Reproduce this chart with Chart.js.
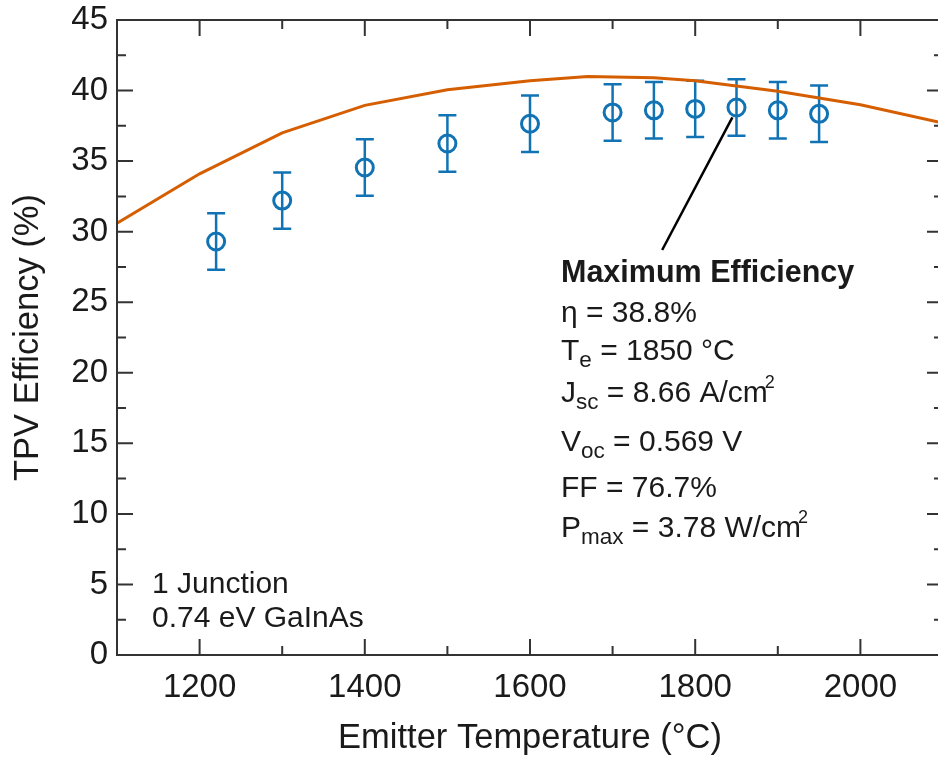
<!DOCTYPE html>
<html>
<head>
<meta charset="utf-8">
<script src="https://cdn.jsdelivr.net/npm/chart.js@4/dist/chart.umd.min.js"></script>
<style>
html,body{margin:0;padding:0;background:#fff;overflow:hidden;width:938px;height:759px}
#wrap{position:relative;width:945px;height:759px}
</style>
</head>
<body>
<div id="wrap"><canvas id="c" width="945" height="759"></canvas></div>
<script>
// ---- data ----
const measuredTemps = [1220, 1300, 1400, 1500, 1600, 1700, 1750, 1800, 1850, 1900, 1950];
const measuredEff   = [29.3, 32.2, 34.55, 36.25, 37.65, 38.45, 38.6, 38.7, 38.8, 38.6, 38.35];
const measuredErr   = [2.0, 2.0, 2.0, 2.0, 2.0, 2.0, 2.0, 2.0, 2.0, 2.0, 2.0];
const modelTemps    = [1100, 1200, 1300, 1400, 1500, 1600, 1670, 1750, 1800, 1900, 2000, 2100];
const modelEff      = [30.6, 34.1, 37.0, 38.95, 40.05, 40.7, 41.0, 40.9, 40.7, 39.95, 39.0, 37.7];
const xTickValues   = [1200, 1400, 1600, 1800, 2000];
const xMinorValues  = [1300, 1500, 1700, 1900];
const yTickValues   = [0, 5, 10, 15, 20, 25, 30, 35, 40, 45];
const yMinorValues  = [2.5, 7.5, 12.5, 17.5, 22.5, 27.5, 32.5, 37.5, 42.5];
const xTitle = 'Emitter Temperature (°C)';
const yTitle = 'TPV Efficiency (%)';
const calloutFrom = [1845, 38.1];
const calloutTo   = [1760, 28.7];
const cornerLines = ['1 Junction', '0.74 eV GaInAs'];
const annotationLines = [
  [{t:'Maximum Efficiency', bold:true}],
  [{t:'η = 38.8%'}],
  [{t:'T'}, {t:'e', sub:true}, {t:' = 1850 °C'}],
  [{t:'J'}, {t:'sc', sub:true}, {t:' = 8.66 A/cm'}, {t:'2', sup:true}],
  [{t:'V'}, {t:'oc', sub:true}, {t:' = 0.569 V'}],
  [{t:'FF = 76.7%'}],
  [{t:'P'}, {t:'max', sub:true}, {t:' = 3.78 W/cm'}, {t:'2', sup:true}]
];

// ---- style ----
const FONT = "'Liberation Sans', Arial, Helvetica, sans-serif";
const TXT = '#1a1a1a';
const AXIS = '#333333';
const BLUE = '#1173b4';
const ORANGE = '#d55e00';

const annotBaselines = [282, 322, 360, 402, 451, 497, 537];

function drawRuns(ctx, x, y, runs) {
  let cx = x;
  runs.forEach(r => {
    let size = 30, dy = 0, dx = 0;
    if (r.bold) size = 30.5;
    if (r.sub) { size = 22.5; dy = 7; }
    if (r.sup) { size = 18; dy = -14; dx = -3; }
    ctx.font = (r.bold ? 'bold ' : '') + size + 'px ' + FONT;
    cx += dx;
    ctx.fillText(r.t, cx, y + dy);
    cx += ctx.measureText(r.t).width;
  });
}

const framePlugin = {
  id: 'frame',
  beforeDatasetsDraw(chart) {
    const xs = chart.scales.x, ys = chart.scales.y, ctx = chart.ctx;
    ctx.save();
    ctx.strokeStyle = BLUE;
    ctx.lineWidth = 2.5;
    measuredTemps.forEach((t, i) => {
      const px = xs.getPixelForValue(t);
      const hi = ys.getPixelForValue(measuredEff[i] + measuredErr[i]);
      const lo = ys.getPixelForValue(measuredEff[i] - measuredErr[i]);
      ctx.beginPath();
      ctx.moveTo(px, hi); ctx.lineTo(px, lo);
      ctx.moveTo(px - 9, hi); ctx.lineTo(px + 9, hi);
      ctx.moveTo(px - 9, lo); ctx.lineTo(px + 9, lo);
      ctx.stroke();
    });
    ctx.restore();
  },
  afterDraw(chart) {
    const {left, right, top, bottom} = chart.chartArea;
    const xs = chart.scales.x, ys = chart.scales.y, ctx = chart.ctx;
    ctx.save();
    ctx.strokeStyle = AXIS;
    ctx.lineWidth = 2;
    ctx.beginPath();
    ctx.rect(left, top, right - left, bottom - top);
    ctx.stroke();
    ctx.beginPath();
    const xtick = (vals, len) => {
      vals.forEach(v => {
        const px = xs.getPixelForValue(v);
        ctx.moveTo(px, bottom); ctx.lineTo(px, bottom - len);
        ctx.moveTo(px, top); ctx.lineTo(px, top + len);
      });
    };
    const ytick = (vals, len) => {
      vals.forEach(v => {
        const py = ys.getPixelForValue(v);
        ctx.moveTo(left, py); ctx.lineTo(left + len, py);
        ctx.moveTo(right, py); ctx.lineTo(right - len, py);
      });
    };
    xtick(xTickValues, 16); xtick(xMinorValues, 9);
    ytick(yTickValues, 16); ytick(yMinorValues, 9);
    ctx.stroke();
    ctx.strokeStyle = '#000';
    ctx.lineWidth = 2.5;
    ctx.beginPath();
    ctx.moveTo(xs.getPixelForValue(calloutFrom[0]), ys.getPixelForValue(calloutFrom[1]));
    ctx.lineTo(xs.getPixelForValue(calloutTo[0]), ys.getPixelForValue(calloutTo[1]));
    ctx.stroke();
    ctx.fillStyle = TXT;
    ctx.textBaseline = 'alphabetic';
    ctx.textAlign = 'left';
    annotationLines.forEach((runs, i) => drawRuns(ctx, 561, annotBaselines[i], runs));
    ctx.font = '30px ' + FONT;
    ctx.fillText(cornerLines[0], 152, 593);
    ctx.fillText(cornerLines[1], 152, 627);
    ctx.restore();
  }
};

new Chart(document.getElementById('c'), {
  type: 'scatter',
  data: {
    datasets: [
      {
        type: 'line',
        label: 'Model',
        data: modelTemps.map((t, i) => ({x: t, y: modelEff[i]})),
        borderColor: ORANGE,
        borderWidth: 3,
        pointRadius: 0,
        fill: false,
        tension: 0,
        order: 2
      },
      {
        label: 'Measured',
        data: measuredTemps.map((t, i) => ({x: t, y: measuredEff[i]})),
        pointStyle: 'circle',
        pointRadius: 8.5,
        borderWidth: 3,
        borderColor: BLUE,
        backgroundColor: 'rgba(0,0,0,0)',
        showLine: false,
        order: 1
      }
    ]
  },
  options: {
    responsive: false,
    devicePixelRatio: 1,
    animation: false,
    events: [],
    layout: {autoPadding: false, padding: {top: 20, right: 2, left: 0, bottom: 0}},
    plugins: {legend: {display: false}, tooltip: {enabled: false}},
    scales: {
      x: {
        type: 'linear', position: 'bottom', min: 1100, max: 2100,
        grid: {display: false, drawTicks: false, tickLength: 0},
        border: {display: false},
        afterBuildTicks: s => { s.ticks = xTickValues.map(v => ({value: v})); },
        afterFit: s => { s.height = 104; s.paddingLeft = 0; s.paddingRight = 0; s.paddingTop = 0; s.paddingBottom = 0; },
        ticks: {font: {size: 33, family: FONT}, color: TXT, padding: 13, maxRotation: 0, autoSkip: false,
                callback: v => String(v)},
        title: {display: true, text: xTitle, font: {size: 34.5, family: FONT}, color: TXT, padding: {top: 0, bottom: 0}}
      },
      y: {
        type: 'linear', position: 'left', min: 0, max: 45,
        grid: {display: false, drawTicks: false, tickLength: 0},
        border: {display: false},
        afterBuildTicks: s => { s.ticks = yTickValues.map(v => ({value: v})); },
        afterFit: s => { s.width = 117; s.paddingLeft = 0; s.paddingRight = 0; s.paddingTop = 0; s.paddingBottom = 0; },
        ticks: {font: {size: 33, family: FONT}, color: TXT, padding: 9, autoSkip: false,
                callback: v => String(v)},
        title: {display: true, text: yTitle, font: {size: 34.5, family: FONT}, color: TXT, padding: {top: 8, bottom: 0}}
      }
    }
  },
  plugins: [framePlugin]
});
</script>
</body>
</html>
